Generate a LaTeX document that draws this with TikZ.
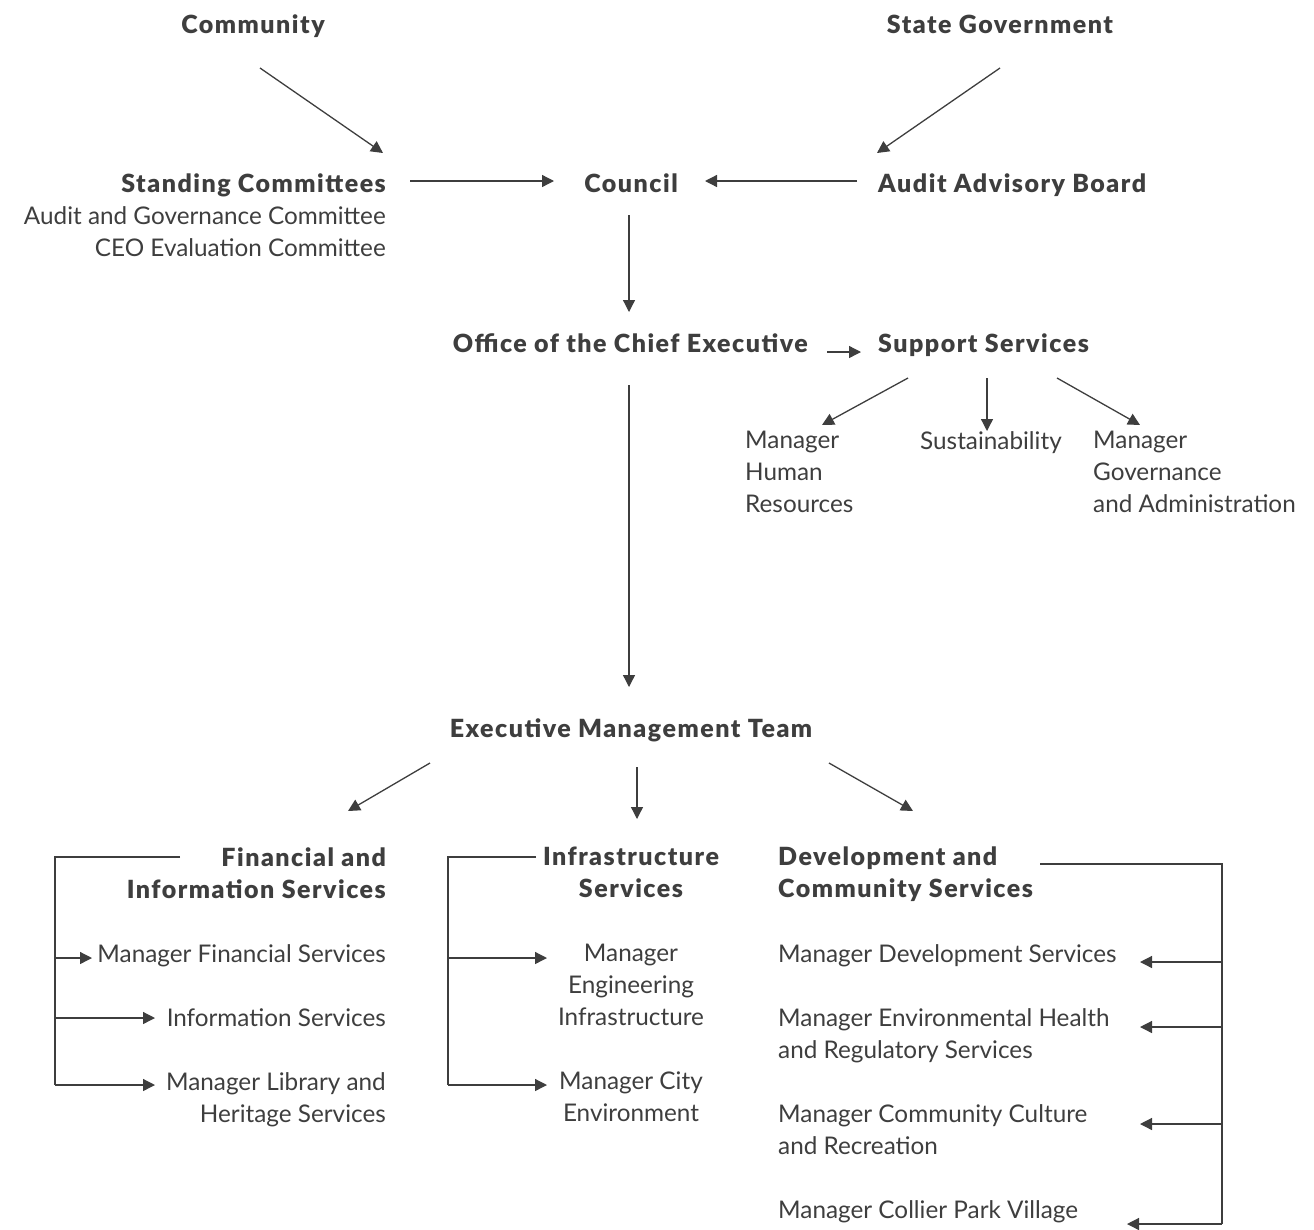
\documentclass[tikz,border=0pt]{standalone}
\usepackage{fontspec}
\setmainfont{Lato}
\newfontfamily\hdfont{Lato Black}[LetterSpace=6]
\usetikzlibrary{arrows.meta}
\definecolor{ink}{HTML}{3E3E3E}
\begin{document}
\begin{tikzpicture}[x=1pt,y=-1pt,
  every node/.style={inner sep=0pt, text=ink, font=\fontsize{24.3}{32}\selectfont},
  hd/.style={font=\fontsize{25}{32}\selectfont\hdfont},
  arr/.style={draw=ink, line width=1.3pt, -{Triangle[length=12pt,width=12pt]}},
  ln/.style={draw=ink, line width=1.3pt}]
\useasboundingbox (0,0) rectangle (1314,1229);
% top level
\node[hd, anchor=base] (comm) at (253,33) {Community};
\node[hd, anchor=base] (state) at (1000,33) {State Government};
\node[anchor=north east, align=right] (sc) at (386,174) {{\fontsize{25}{32}\selectfont\hdfont Standing Committees}\\Audit and Governance Committee\\CEO Evaluation Committee};
\node[hd, anchor=base] (council) at (631,192) {Council};
\node[hd, anchor=base west] (aab) at (878,192) {Audit Advisory Board};
\node[hd, anchor=base east] (oce) at (808,352) {Office of the Chief Executive};
\node[hd, anchor=base west] (ss) at (878,352) {Support Services};
\node[anchor=north west, align=left] (hr) at (745,431) {Manager\\Human\\Resources};
\node[anchor=base west] (sus) at (920,449) {Sustainability};
\node[anchor=north west, align=left] (gov) at (1093,431) {Manager\\Governance\\and Administration};
\node[hd, anchor=base] (emt) at (631,737) {Executive Management Team};
% departments
\node[anchor=north east, align=right] (fis) at (386,847) {{\fontsize{25}{32}\selectfont\hdfont Financial and}\\{\fontsize{25}{32}\selectfont\hdfont Information Services}};
\node[anchor=base east] (mfs) at (386,962) {Manager Financial Services};
\node[anchor=base east] (is) at (386,1026) {Information Services};
\node[anchor=north east, align=right] (lib) at (386,1072) {Manager Library and\\Heritage Services};
\node[anchor=north, align=center] (inf) at (631,847) {{\fontsize{25}{32}\selectfont\hdfont Infrastructure}\\{\fontsize{25}{32}\selectfont\hdfont Services}};
\node[anchor=north, align=center] (eng) at (631,944) {Manager\\Engineering\\Infrastructure};
\node[anchor=north, align=center] (city) at (631,1072) {Manager City\\Environment};
\node[anchor=north west, align=left] (dcs) at (778,847) {{\fontsize{25}{32}\selectfont\hdfont Development and}\\{\fontsize{25}{32}\selectfont\hdfont Community Services}};
\node[anchor=base west] (mds) at (778,962) {Manager Development Services};
\node[anchor=north west, align=left] (env) at (778,1008) {Manager Environmental Health\\and Regulatory Services};
\node[anchor=north west, align=left] (ccr) at (778,1104) {Manager Community Culture\\and Recreation};
\node[anchor=base west] (cpv) at (778,1218) {Manager Collier Park Village};
% connector end points
\coordinate (c1s) at (260,68);   \coordinate (c1e) at (383,153);
\coordinate (c2s) at (1000,68);  \coordinate (c2e) at (877,153);
\coordinate (c3s) at (410,181);  \coordinate (c3e) at (554,181);
\coordinate (c4s) at (857,181);  \coordinate (c4e) at (705,181);
\coordinate (c5s) at (629,215);  \coordinate (c5e) at (629,312);
\coordinate (c6s) at (827,352);  \coordinate (c6e) at (861,352);
\coordinate (c7s) at (908,378);  \coordinate (c7e) at (822,425);
\coordinate (c8s) at (987,378);  \coordinate (c8e) at (987,431);
\coordinate (c9s) at (1057,378); \coordinate (c9e) at (1140,425);
\coordinate (c10s) at (629,385); \coordinate (c10e) at (629,687);
\coordinate (e1s) at (430,763);  \coordinate (e1e) at (348,811);
\coordinate (e2s) at (637,767);  \coordinate (e2e) at (637,819);
\coordinate (e3s) at (829,763);  \coordinate (e3e) at (913,811);
\coordinate (fa) at (180,857); \coordinate (fb) at (55,857); \coordinate (fc) at (55,1085);
\coordinate (ia) at (536,857); \coordinate (ib) at (448,857); \coordinate (ic) at (448,1085);
\coordinate (da) at (1040,864); \coordinate (db) at (1222,864); \coordinate (dc) at (1222,1224);
% connectors
\draw[arr] (c1s) -- (c1e);
\draw[arr] (c2s) -- (c2e);
\draw[arr] (c3s) -- (c3e);
\draw[arr] (c4s) -- (c4e);
\draw[arr] (c5s) -- (c5e);
\draw[arr] (c6s) -- (c6e);
\draw[arr] (c7s) -- (c7e);
\draw[arr] (c8s) -- (c8e);
\draw[arr] (c9s) -- (c9e);
\draw[arr] (c10s) -- (c10e);
\draw[arr] (e1s) -- (e1e);
\draw[arr] (e2s) -- (e2e);
\draw[arr] (e3s) -- (e3e);
% brackets
\draw[ln] (fa) -- (fb) -- (fc);
\draw[arr] (55,958) -- (92,958);
\draw[arr] (55,1018) -- (155,1018);
\draw[arr] (fc) -- (155,1085);
\draw[ln] (ia) -- (ib) -- (ic);
\draw[arr] (448,958) -- (547,958);
\draw[arr] (ic) -- (547,1085);
\draw[ln] (da) -- (db) -- (dc);
\draw[arr] (1222,962) -- (1140,962);
\draw[arr] (1222,1027) -- (1140,1027);
\draw[arr] (1222,1124) -- (1140,1124);
\draw[arr] (dc) -- (1127,1224);
\end{tikzpicture}
\end{document}
